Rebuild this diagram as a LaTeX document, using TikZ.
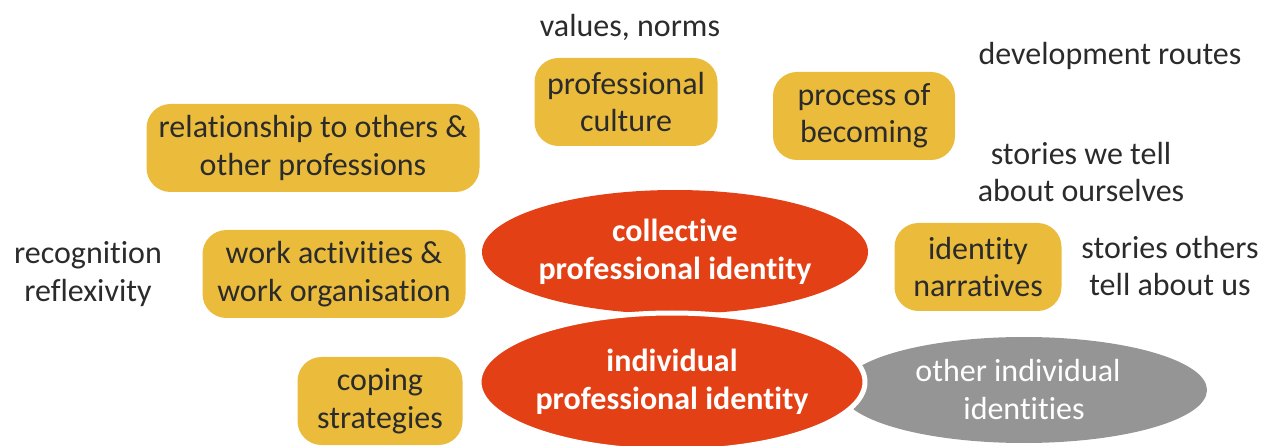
\documentclass[tikz,border=0pt]{standalone}
\usepackage{fontspec}
\setmainfont{Carlito}[Ligatures=NoCommon]
\usetikzlibrary{shapes.geometric}
\definecolor{boxyellow}{HTML}{EBBC3C}
\definecolor{idred}{HTML}{E34016}
\definecolor{idgrey}{HTML}{959595}
\definecolor{txt}{HTML}{2B2B2B}
\tikzset{
  lbl/.style={align=center, text=txt, font=\fontsize{32}{37.5}\selectfont, inner sep=0pt},
  ybox/.style={lbl, fill=boxyellow, rounded corners=24pt, minimum height=88pt},
  redell/.style={ellipse, fill=idred, text=white, align=center, inner sep=0pt,
    font=\fontsize{32}{38}\selectfont\bfseries},
}
\begin{document}
\begin{tikzpicture}[x=1pt,y=-1pt]
\useasboundingbox (0,0) rectangle (1264,446);
% plain labels
\node[lbl] (vn) at (630,27) {values, norms};
\node[lbl] (dr) at (1110,56) {development routes};
\node[lbl] (sw) at (1081,172) {stories we tell\\about ourselves};
\node[lbl] (rr) at (88,274) {recognition\\reflexivity};
\node[lbl] (so) at (1170,266) {stories others\\tell about us};
% yellow boxes
\node[ybox, minimum width=183pt] (pc) at (626,102) {professional\\culture};
\node[ybox, minimum width=182pt] (pb) at (864,116) {process of\\becoming};
\node[ybox, minimum width=333pt] (ro) at (313,148) {relationship to others \&\\other professions};
\node[ybox, minimum width=263pt] (wa) at (334,274) {work activities \&\\work organisation};
\node[ybox, minimum width=167pt] (in) at (978,267) {identity\\narratives};
\node[ybox, minimum width=165pt] (cs) at (380,401) {coping\\strategies};
% ellipses
\node[redell, minimum width=386pt, minimum height=124pt] (cpi) at (675,252) {collective\\professional identity};
\node[ellipse, fill=idgrey, text=white, align=center, inner sep=0pt,
  font=\fontsize{32}{38}\selectfont, minimum width=366pt, minimum height=106pt] (oii) at (1024,390) {\hspace*{-12pt}other individual\\identities};
\node[redell, draw=white, line width=5pt, minimum width=384pt, minimum height=138pt] (ipi) at (672,382) {individual\\professional identity};
\end{tikzpicture}
\end{document}
